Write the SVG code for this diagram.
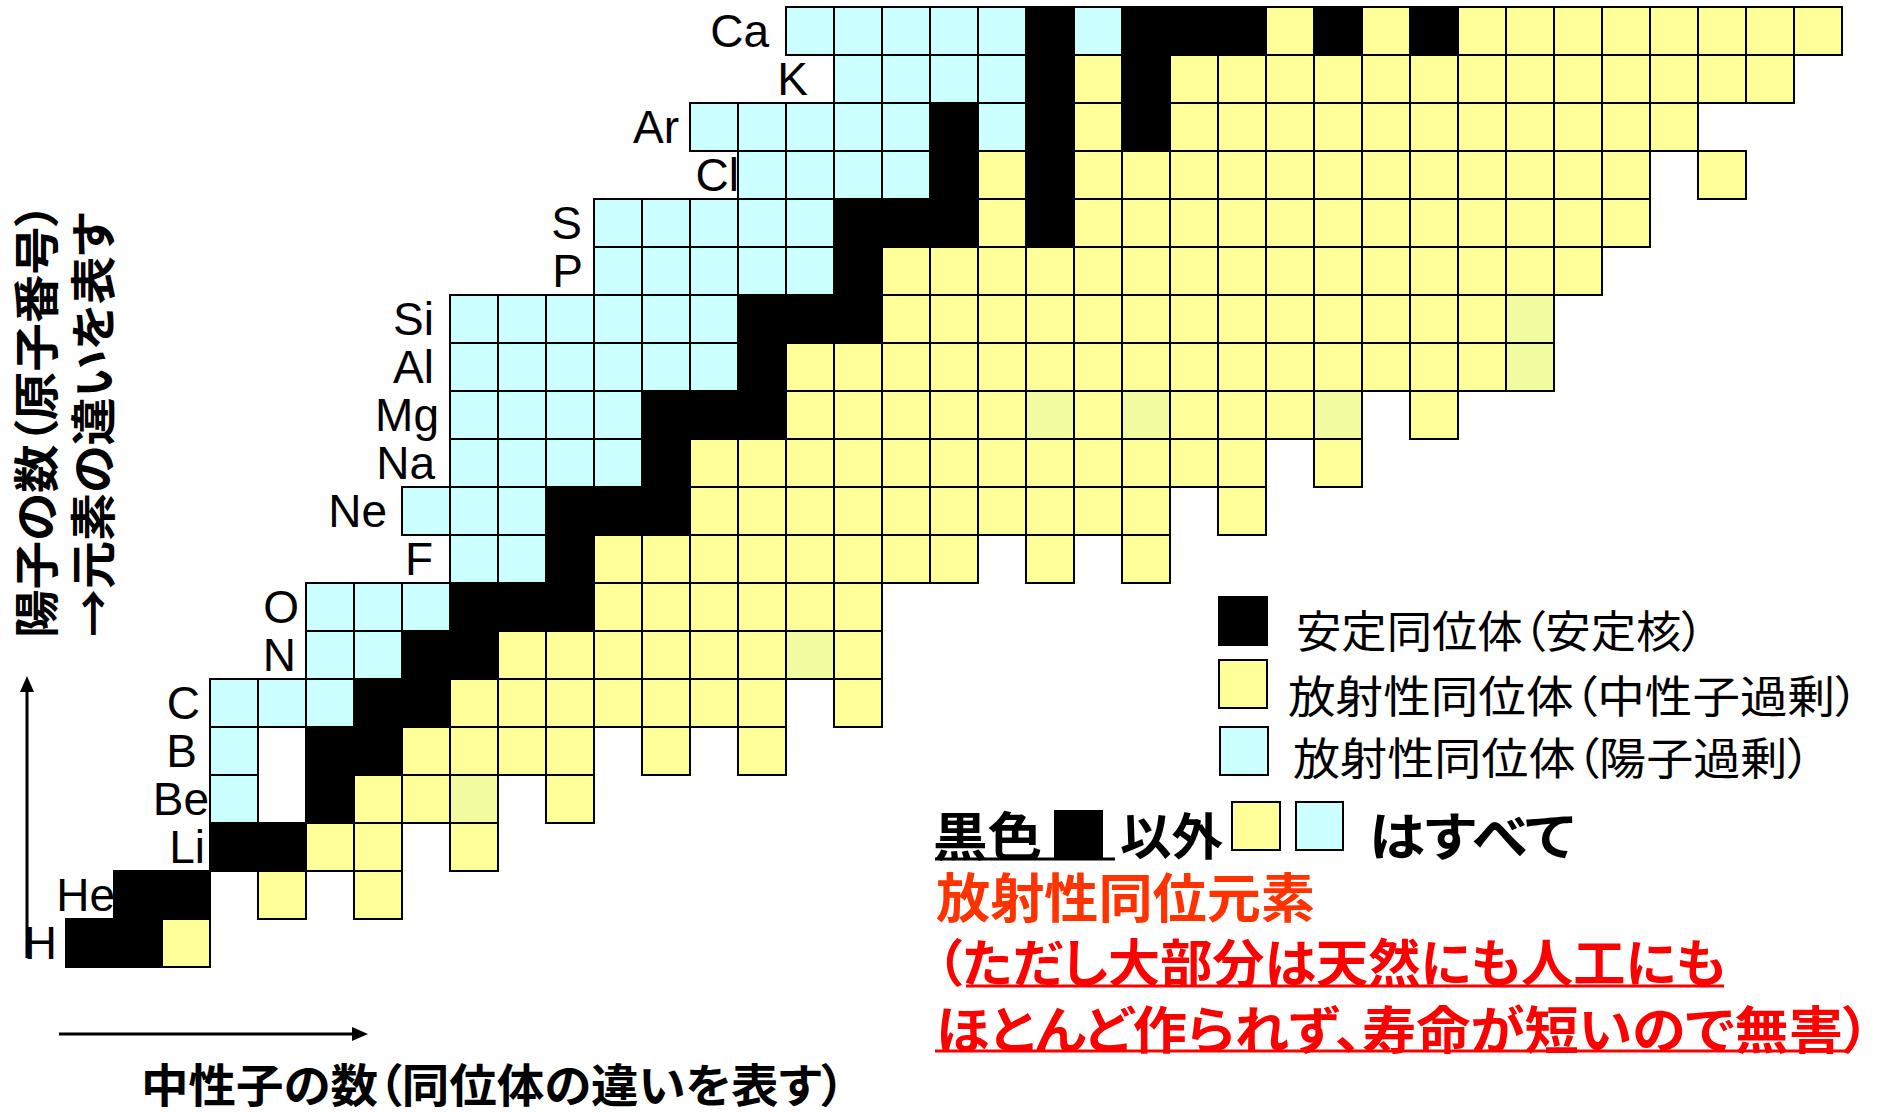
<svg xmlns="http://www.w3.org/2000/svg" width="1877" height="1112" viewBox="0 0 1877 1112">
<defs>
<style>
.cells rect{stroke:#000;stroke-width:2}
.s{fill:#000}.y{fill:#FFFF99}.c{fill:#CCFFFF}.p{fill:#F2FBA0}
.lbl{font-family:'Liberation Sans',Arial,sans-serif;font-size:46px;fill:#000;text-anchor:end}
.jp{font-family:'Noto Sans CJK JP','Noto Sans CJK SC',sans-serif;font-feature-settings:'palt' 1;dominant-baseline:central}
.b{font-weight:bold}
.ax{stroke:#000;stroke-width:3;fill:none}
</style>
<marker id="ah" markerUnits="userSpaceOnUse" markerWidth="17" markerHeight="14" refX="0" refY="7" orient="auto"><path d="M0,0 L16,7 L0,14 z" fill="#000"/></marker>
</defs>
<rect x="0" y="0" width="1877" height="1112" fill="#fff"/>

<g class="cells">
<g id="row-H"><text class="lbl" x="57" y="959">H</text>
<rect class="s" x="66" y="919" width="48" height="48"/><rect class="s" x="114" y="919" width="48" height="48"/><rect class="y" x="162" y="919" width="48" height="48"/>
</g>
<g id="row-He"><text class="lbl" x="115" y="911">He</text>
<rect class="s" x="114" y="871" width="48" height="48"/><rect class="s" x="162" y="871" width="48" height="48"/><rect class="y" x="258" y="871" width="48" height="48"/><rect class="y" x="354" y="871" width="48" height="48"/>
</g>
<g id="row-Li"><text class="lbl" x="205" y="863">Li</text>
<rect class="s" x="210" y="823" width="48" height="48"/><rect class="s" x="258" y="823" width="48" height="48"/><rect class="y" x="306" y="823" width="48" height="48"/><rect class="y" x="354" y="823" width="48" height="48"/><rect class="y" x="450" y="823" width="48" height="48"/>
</g>
<g id="row-Be"><text class="lbl" x="209" y="815">Be</text>
<rect class="c" x="210" y="775" width="48" height="48"/><rect class="s" x="306" y="775" width="48" height="48"/><rect class="y" x="354" y="775" width="48" height="48"/><rect class="y" x="402" y="775" width="48" height="48"/><rect class="p" x="450" y="775" width="48" height="48"/><rect class="y" x="546" y="775" width="48" height="48"/>
</g>
<g id="row-B"><text class="lbl" x="197" y="767">B</text>
<rect class="c" x="210" y="727" width="48" height="48"/><rect class="s" x="306" y="727" width="48" height="48"/><rect class="s" x="354" y="727" width="48" height="48"/><rect class="y" x="402" y="727" width="48" height="48"/><rect class="y" x="450" y="727" width="48" height="48"/><rect class="y" x="498" y="727" width="48" height="48"/><rect class="y" x="546" y="727" width="48" height="48"/><rect class="y" x="642" y="727" width="48" height="48"/><rect class="y" x="738" y="727" width="48" height="48"/>
</g>
<g id="row-C"><text class="lbl" x="200" y="719">C</text>
<rect class="c" x="210" y="679" width="48" height="48"/><rect class="c" x="258" y="679" width="48" height="48"/><rect class="c" x="306" y="679" width="48" height="48"/><rect class="s" x="354" y="679" width="48" height="48"/><rect class="s" x="402" y="679" width="48" height="48"/><rect class="y" x="450" y="679" width="48" height="48"/><rect class="y" x="498" y="679" width="48" height="48"/><rect class="y" x="546" y="679" width="48" height="48"/><rect class="y" x="594" y="679" width="48" height="48"/><rect class="y" x="642" y="679" width="48" height="48"/><rect class="y" x="690" y="679" width="48" height="48"/><rect class="y" x="738" y="679" width="48" height="48"/><rect class="y" x="834" y="679" width="48" height="48"/>
</g>
<g id="row-N"><text class="lbl" x="296" y="671">N</text>
<rect class="c" x="306" y="631" width="48" height="48"/><rect class="c" x="354" y="631" width="48" height="48"/><rect class="s" x="402" y="631" width="48" height="48"/><rect class="s" x="450" y="631" width="48" height="48"/><rect class="y" x="498" y="631" width="48" height="48"/><rect class="y" x="546" y="631" width="48" height="48"/><rect class="y" x="594" y="631" width="48" height="48"/><rect class="y" x="642" y="631" width="48" height="48"/><rect class="y" x="690" y="631" width="48" height="48"/><rect class="y" x="738" y="631" width="48" height="48"/><rect class="p" x="786" y="631" width="48" height="48"/><rect class="y" x="834" y="631" width="48" height="48"/>
</g>
<g id="row-O"><text class="lbl" x="299" y="623">O</text>
<rect class="c" x="306" y="583" width="48" height="48"/><rect class="c" x="354" y="583" width="48" height="48"/><rect class="c" x="402" y="583" width="48" height="48"/><rect class="s" x="450" y="583" width="48" height="48"/><rect class="s" x="498" y="583" width="48" height="48"/><rect class="s" x="546" y="583" width="48" height="48"/><rect class="y" x="594" y="583" width="48" height="48"/><rect class="y" x="642" y="583" width="48" height="48"/><rect class="y" x="690" y="583" width="48" height="48"/><rect class="y" x="738" y="583" width="48" height="48"/><rect class="y" x="786" y="583" width="48" height="48"/><rect class="y" x="834" y="583" width="48" height="48"/>
</g>
<g id="row-F"><text class="lbl" x="433" y="575">F</text>
<rect class="c" x="450" y="535" width="48" height="48"/><rect class="c" x="498" y="535" width="48" height="48"/><rect class="s" x="546" y="535" width="48" height="48"/><rect class="y" x="594" y="535" width="48" height="48"/><rect class="y" x="642" y="535" width="48" height="48"/><rect class="y" x="690" y="535" width="48" height="48"/><rect class="y" x="738" y="535" width="48" height="48"/><rect class="y" x="786" y="535" width="48" height="48"/><rect class="y" x="834" y="535" width="48" height="48"/><rect class="y" x="882" y="535" width="48" height="48"/><rect class="y" x="930" y="535" width="48" height="48"/><rect class="y" x="1026" y="535" width="48" height="48"/><rect class="y" x="1122" y="535" width="48" height="48"/>
</g>
<g id="row-Ne"><text class="lbl" x="387" y="527">Ne</text>
<rect class="c" x="402" y="487" width="48" height="48"/><rect class="c" x="450" y="487" width="48" height="48"/><rect class="c" x="498" y="487" width="48" height="48"/><rect class="s" x="546" y="487" width="48" height="48"/><rect class="s" x="594" y="487" width="48" height="48"/><rect class="s" x="642" y="487" width="48" height="48"/><rect class="y" x="690" y="487" width="48" height="48"/><rect class="y" x="738" y="487" width="48" height="48"/><rect class="y" x="786" y="487" width="48" height="48"/><rect class="y" x="834" y="487" width="48" height="48"/><rect class="y" x="882" y="487" width="48" height="48"/><rect class="y" x="930" y="487" width="48" height="48"/><rect class="y" x="978" y="487" width="48" height="48"/><rect class="y" x="1026" y="487" width="48" height="48"/><rect class="y" x="1074" y="487" width="48" height="48"/><rect class="y" x="1122" y="487" width="48" height="48"/><rect class="y" x="1218" y="487" width="48" height="48"/>
</g>
<g id="row-Na"><text class="lbl" x="435" y="479">Na</text>
<rect class="c" x="450" y="439" width="48" height="48"/><rect class="c" x="498" y="439" width="48" height="48"/><rect class="c" x="546" y="439" width="48" height="48"/><rect class="c" x="594" y="439" width="48" height="48"/><rect class="s" x="642" y="439" width="48" height="48"/><rect class="y" x="690" y="439" width="48" height="48"/><rect class="y" x="738" y="439" width="48" height="48"/><rect class="y" x="786" y="439" width="48" height="48"/><rect class="y" x="834" y="439" width="48" height="48"/><rect class="y" x="882" y="439" width="48" height="48"/><rect class="y" x="930" y="439" width="48" height="48"/><rect class="y" x="978" y="439" width="48" height="48"/><rect class="y" x="1026" y="439" width="48" height="48"/><rect class="y" x="1074" y="439" width="48" height="48"/><rect class="y" x="1122" y="439" width="48" height="48"/><rect class="y" x="1170" y="439" width="48" height="48"/><rect class="y" x="1218" y="439" width="48" height="48"/><rect class="y" x="1314" y="439" width="48" height="48"/>
</g>
<g id="row-Mg"><text class="lbl" x="439" y="431">Mg</text>
<rect class="c" x="450" y="391" width="48" height="48"/><rect class="c" x="498" y="391" width="48" height="48"/><rect class="c" x="546" y="391" width="48" height="48"/><rect class="c" x="594" y="391" width="48" height="48"/><rect class="s" x="642" y="391" width="48" height="48"/><rect class="s" x="690" y="391" width="48" height="48"/><rect class="s" x="738" y="391" width="48" height="48"/><rect class="y" x="786" y="391" width="48" height="48"/><rect class="y" x="834" y="391" width="48" height="48"/><rect class="y" x="882" y="391" width="48" height="48"/><rect class="y" x="930" y="391" width="48" height="48"/><rect class="y" x="978" y="391" width="48" height="48"/><rect class="p" x="1026" y="391" width="48" height="48"/><rect class="y" x="1074" y="391" width="48" height="48"/><rect class="p" x="1122" y="391" width="48" height="48"/><rect class="y" x="1170" y="391" width="48" height="48"/><rect class="y" x="1218" y="391" width="48" height="48"/><rect class="y" x="1266" y="391" width="48" height="48"/><rect class="p" x="1314" y="391" width="48" height="48"/><rect class="y" x="1410" y="391" width="48" height="48"/>
</g>
<g id="row-Al"><text class="lbl" x="434" y="383">Al</text>
<rect class="c" x="450" y="343" width="48" height="48"/><rect class="c" x="498" y="343" width="48" height="48"/><rect class="c" x="546" y="343" width="48" height="48"/><rect class="c" x="594" y="343" width="48" height="48"/><rect class="c" x="642" y="343" width="48" height="48"/><rect class="c" x="690" y="343" width="48" height="48"/><rect class="s" x="738" y="343" width="48" height="48"/><rect class="y" x="786" y="343" width="48" height="48"/><rect class="y" x="834" y="343" width="48" height="48"/><rect class="y" x="882" y="343" width="48" height="48"/><rect class="y" x="930" y="343" width="48" height="48"/><rect class="y" x="978" y="343" width="48" height="48"/><rect class="y" x="1026" y="343" width="48" height="48"/><rect class="y" x="1074" y="343" width="48" height="48"/><rect class="y" x="1122" y="343" width="48" height="48"/><rect class="y" x="1170" y="343" width="48" height="48"/><rect class="y" x="1218" y="343" width="48" height="48"/><rect class="y" x="1266" y="343" width="48" height="48"/><rect class="y" x="1314" y="343" width="48" height="48"/><rect class="y" x="1362" y="343" width="48" height="48"/><rect class="y" x="1410" y="343" width="48" height="48"/><rect class="y" x="1458" y="343" width="48" height="48"/><rect class="p" x="1506" y="343" width="48" height="48"/>
</g>
<g id="row-Si"><text class="lbl" x="434" y="335">Si</text>
<rect class="c" x="450" y="295" width="48" height="48"/><rect class="c" x="498" y="295" width="48" height="48"/><rect class="c" x="546" y="295" width="48" height="48"/><rect class="c" x="594" y="295" width="48" height="48"/><rect class="c" x="642" y="295" width="48" height="48"/><rect class="c" x="690" y="295" width="48" height="48"/><rect class="s" x="738" y="295" width="48" height="48"/><rect class="s" x="786" y="295" width="48" height="48"/><rect class="s" x="834" y="295" width="48" height="48"/><rect class="y" x="882" y="295" width="48" height="48"/><rect class="y" x="930" y="295" width="48" height="48"/><rect class="y" x="978" y="295" width="48" height="48"/><rect class="y" x="1026" y="295" width="48" height="48"/><rect class="y" x="1074" y="295" width="48" height="48"/><rect class="y" x="1122" y="295" width="48" height="48"/><rect class="y" x="1170" y="295" width="48" height="48"/><rect class="y" x="1218" y="295" width="48" height="48"/><rect class="y" x="1266" y="295" width="48" height="48"/><rect class="y" x="1314" y="295" width="48" height="48"/><rect class="y" x="1362" y="295" width="48" height="48"/><rect class="y" x="1410" y="295" width="48" height="48"/><rect class="y" x="1458" y="295" width="48" height="48"/><rect class="p" x="1506" y="295" width="48" height="48"/>
</g>
<g id="row-P"><text class="lbl" x="583" y="287">P</text>
<rect class="c" x="594" y="247" width="48" height="48"/><rect class="c" x="642" y="247" width="48" height="48"/><rect class="c" x="690" y="247" width="48" height="48"/><rect class="c" x="738" y="247" width="48" height="48"/><rect class="c" x="786" y="247" width="48" height="48"/><rect class="s" x="834" y="247" width="48" height="48"/><rect class="y" x="882" y="247" width="48" height="48"/><rect class="y" x="930" y="247" width="48" height="48"/><rect class="y" x="978" y="247" width="48" height="48"/><rect class="y" x="1026" y="247" width="48" height="48"/><rect class="y" x="1074" y="247" width="48" height="48"/><rect class="y" x="1122" y="247" width="48" height="48"/><rect class="y" x="1170" y="247" width="48" height="48"/><rect class="y" x="1218" y="247" width="48" height="48"/><rect class="y" x="1266" y="247" width="48" height="48"/><rect class="y" x="1314" y="247" width="48" height="48"/><rect class="y" x="1362" y="247" width="48" height="48"/><rect class="y" x="1410" y="247" width="48" height="48"/><rect class="y" x="1458" y="247" width="48" height="48"/><rect class="y" x="1506" y="247" width="48" height="48"/><rect class="y" x="1554" y="247" width="48" height="48"/>
</g>
<g id="row-S"><text class="lbl" x="582" y="239">S</text>
<rect class="c" x="594" y="199" width="48" height="48"/><rect class="c" x="642" y="199" width="48" height="48"/><rect class="c" x="690" y="199" width="48" height="48"/><rect class="c" x="738" y="199" width="48" height="48"/><rect class="c" x="786" y="199" width="48" height="48"/><rect class="s" x="834" y="199" width="48" height="48"/><rect class="s" x="882" y="199" width="48" height="48"/><rect class="s" x="930" y="199" width="48" height="48"/><rect class="y" x="978" y="199" width="48" height="48"/><rect class="s" x="1026" y="199" width="48" height="48"/><rect class="y" x="1074" y="199" width="48" height="48"/><rect class="y" x="1122" y="199" width="48" height="48"/><rect class="y" x="1170" y="199" width="48" height="48"/><rect class="y" x="1218" y="199" width="48" height="48"/><rect class="y" x="1266" y="199" width="48" height="48"/><rect class="y" x="1314" y="199" width="48" height="48"/><rect class="y" x="1362" y="199" width="48" height="48"/><rect class="y" x="1410" y="199" width="48" height="48"/><rect class="y" x="1458" y="199" width="48" height="48"/><rect class="y" x="1506" y="199" width="48" height="48"/><rect class="y" x="1554" y="199" width="48" height="48"/><rect class="y" x="1602" y="199" width="48" height="48"/>
</g>
<g id="row-Cl"><text class="lbl" x="739" y="191">Cl</text>
<rect class="c" x="738" y="151" width="48" height="48"/><rect class="c" x="786" y="151" width="48" height="48"/><rect class="c" x="834" y="151" width="48" height="48"/><rect class="c" x="882" y="151" width="48" height="48"/><rect class="s" x="930" y="151" width="48" height="48"/><rect class="y" x="978" y="151" width="48" height="48"/><rect class="s" x="1026" y="151" width="48" height="48"/><rect class="y" x="1074" y="151" width="48" height="48"/><rect class="y" x="1122" y="151" width="48" height="48"/><rect class="y" x="1170" y="151" width="48" height="48"/><rect class="y" x="1218" y="151" width="48" height="48"/><rect class="y" x="1266" y="151" width="48" height="48"/><rect class="y" x="1314" y="151" width="48" height="48"/><rect class="y" x="1362" y="151" width="48" height="48"/><rect class="y" x="1410" y="151" width="48" height="48"/><rect class="y" x="1458" y="151" width="48" height="48"/><rect class="y" x="1506" y="151" width="48" height="48"/><rect class="y" x="1554" y="151" width="48" height="48"/><rect class="y" x="1602" y="151" width="48" height="48"/><rect class="y" x="1698" y="151" width="48" height="48"/>
</g>
<g id="row-Ar"><text class="lbl" x="679" y="143">Ar</text>
<rect class="c" x="690" y="103" width="48" height="48"/><rect class="c" x="738" y="103" width="48" height="48"/><rect class="c" x="786" y="103" width="48" height="48"/><rect class="c" x="834" y="103" width="48" height="48"/><rect class="c" x="882" y="103" width="48" height="48"/><rect class="s" x="930" y="103" width="48" height="48"/><rect class="c" x="978" y="103" width="48" height="48"/><rect class="s" x="1026" y="103" width="48" height="48"/><rect class="y" x="1074" y="103" width="48" height="48"/><rect class="s" x="1122" y="103" width="48" height="48"/><rect class="y" x="1170" y="103" width="48" height="48"/><rect class="y" x="1218" y="103" width="48" height="48"/><rect class="y" x="1266" y="103" width="48" height="48"/><rect class="y" x="1314" y="103" width="48" height="48"/><rect class="y" x="1362" y="103" width="48" height="48"/><rect class="y" x="1410" y="103" width="48" height="48"/><rect class="y" x="1458" y="103" width="48" height="48"/><rect class="y" x="1506" y="103" width="48" height="48"/><rect class="y" x="1554" y="103" width="48" height="48"/><rect class="y" x="1602" y="103" width="48" height="48"/><rect class="y" x="1650" y="103" width="48" height="48"/>
</g>
<g id="row-K"><text class="lbl" x="808" y="95">K</text>
<rect class="c" x="834" y="55" width="48" height="48"/><rect class="c" x="882" y="55" width="48" height="48"/><rect class="c" x="930" y="55" width="48" height="48"/><rect class="c" x="978" y="55" width="48" height="48"/><rect class="s" x="1026" y="55" width="48" height="48"/><rect class="y" x="1074" y="55" width="48" height="48"/><rect class="s" x="1122" y="55" width="48" height="48"/><rect class="y" x="1170" y="55" width="48" height="48"/><rect class="y" x="1218" y="55" width="48" height="48"/><rect class="y" x="1266" y="55" width="48" height="48"/><rect class="y" x="1314" y="55" width="48" height="48"/><rect class="y" x="1362" y="55" width="48" height="48"/><rect class="y" x="1410" y="55" width="48" height="48"/><rect class="y" x="1458" y="55" width="48" height="48"/><rect class="y" x="1506" y="55" width="48" height="48"/><rect class="y" x="1554" y="55" width="48" height="48"/><rect class="y" x="1602" y="55" width="48" height="48"/><rect class="y" x="1650" y="55" width="48" height="48"/><rect class="y" x="1698" y="55" width="48" height="48"/><rect class="y" x="1746" y="55" width="48" height="48"/>
</g>
<g id="row-Ca"><text class="lbl" x="769" y="47">Ca</text>
<rect class="c" x="786" y="7" width="48" height="48"/><rect class="c" x="834" y="7" width="48" height="48"/><rect class="c" x="882" y="7" width="48" height="48"/><rect class="c" x="930" y="7" width="48" height="48"/><rect class="c" x="978" y="7" width="48" height="48"/><rect class="s" x="1026" y="7" width="48" height="48"/><rect class="c" x="1074" y="7" width="48" height="48"/><rect class="s" x="1122" y="7" width="48" height="48"/><rect class="s" x="1170" y="7" width="48" height="48"/><rect class="s" x="1218" y="7" width="48" height="48"/><rect class="y" x="1266" y="7" width="48" height="48"/><rect class="s" x="1314" y="7" width="48" height="48"/><rect class="y" x="1362" y="7" width="48" height="48"/><rect class="s" x="1410" y="7" width="48" height="48"/><rect class="y" x="1458" y="7" width="48" height="48"/><rect class="y" x="1506" y="7" width="48" height="48"/><rect class="y" x="1554" y="7" width="48" height="48"/><rect class="y" x="1602" y="7" width="48" height="48"/><rect class="y" x="1650" y="7" width="48" height="48"/><rect class="y" x="1698" y="7" width="48" height="48"/><rect class="y" x="1746" y="7" width="48" height="48"/><rect class="y" x="1794" y="7" width="48" height="48"/>
</g>
</g>

<g id="axes">
<line class="ax" x1="27" y1="958" x2="27" y2="692" marker-end="url(#ah)"/>
<line class="ax" x1="59" y1="1034" x2="352" y2="1034" marker-end="url(#ah)"/>
</g>

<g id="y-axis-label">
<text class="jp b" transform="translate(33,420) rotate(-90)" text-anchor="middle" font-size="46" textLength="436" lengthAdjust="spacingAndGlyphs">陽子の数（原子番号）</text>
<text class="jp b" transform="translate(90,425) rotate(-90)" text-anchor="middle" font-size="46" textLength="424" lengthAdjust="spacingAndGlyphs">→元素の違いを表す</text>
</g>
<g id="x-axis-label">
<text class="jp b" x="141" y="1082" font-size="46" textLength="704" lengthAdjust="spacingAndGlyphs">中性子の数（同位体の違いを表す）</text>
</g>

<g id="legend" stroke-width="2">
<g id="legend-stable">
<rect x="1219" y="597" width="48" height="48" fill="#000" stroke="#000"/>
<text class="jp" x="1296" y="629" font-size="44" textLength="408" lengthAdjust="spacingAndGlyphs">安定同位体（安定核）</text>
</g>
<g id="legend-neutron">
<rect x="1219" y="660" width="48" height="48" fill="#FFFF99" stroke="#000"/>
<text class="jp" x="1288" y="694" font-size="44" textLength="571" lengthAdjust="spacingAndGlyphs">放射性同位体（中性子過剰）</text>
</g>
<g id="legend-proton">
<rect x="1220" y="727" width="48" height="48" fill="#CCFFFF" stroke="#000"/>
<text class="jp" x="1293" y="756" font-size="44" textLength="518" lengthAdjust="spacingAndGlyphs">放射性同位体（陽子過剰）</text>
</g>
</g>

<g id="note">
<line x1="935" y1="859" x2="1115" y2="859" stroke="#000" stroke-width="3"/>
<text class="jp b" x="933" y="833" font-size="52" textLength="109" lengthAdjust="spacingAndGlyphs">黒色</text>
<rect x="1054" y="810" width="49" height="50" fill="#000"/>
<text class="jp b" x="1120" y="833" font-size="50" textLength="103" lengthAdjust="spacingAndGlyphs">以外</text>
<rect x="1232" y="802" width="48" height="48" fill="#FFFF99" stroke="#000" stroke-width="2"/>
<rect x="1296" y="802" width="47" height="48" fill="#CCFFFF" stroke="#000" stroke-width="2"/>
<text class="jp b" x="1369" y="833" font-size="52" textLength="205" lengthAdjust="spacingAndGlyphs">はすべて</text>
<text class="jp b" x="936" y="895" font-size="53" fill="#FF3300" textLength="379" lengthAdjust="spacingAndGlyphs">放射性同位元素</text>
<text class="jp b" x="936" y="960" font-size="51" fill="#FF0000" textLength="790" lengthAdjust="spacingAndGlyphs">（ただし大部分は天然にも人工にも</text>
<line x1="966" y1="986" x2="1724" y2="986" stroke="#FF0000" stroke-width="3"/>
<text class="jp b" x="936" y="1027" font-size="51" fill="#FF0000" textLength="934" lengthAdjust="spacingAndGlyphs">ほとんど作られず、寿命が短いので無害）</text>
<line x1="935" y1="1051" x2="1850" y2="1051" stroke="#FF0000" stroke-width="3"/>
</g>
</svg>
